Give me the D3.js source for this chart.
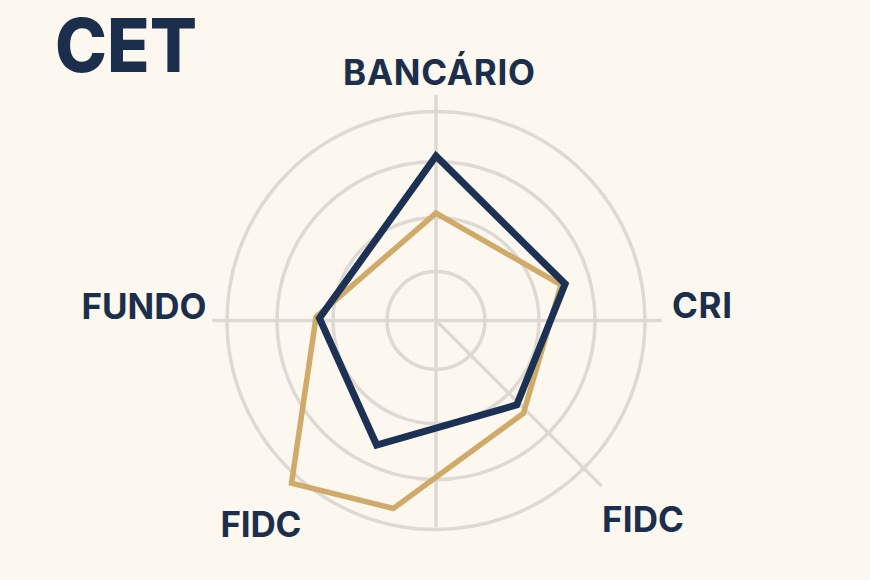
<!DOCTYPE html>
<html>
<head>
<meta charset="utf-8">
<script src="https://cdn.jsdelivr.net/npm/d3@7"></script>
<style>
  html, body { margin: 0; padding: 0; background: #fcf7ef; }
  svg { display: block; }
  text { font-family: Inter, "Noto Sans", sans-serif; fill: #1b2e4b; }
</style>
</head>
<body>
<div id="chart"></div>
<script>
// category labels, as printed
const categories = ["BANCÁRIO", "CRI", "FIDC", "FIDC", "FUNDO"];

// ring values and spoke extents (value units, 0-100 = outer ring)
const ringValues = [23.4, 49.3, 76.1, 100];
const spokeAngles = [0, 90, 135, 180, 270];
const spokeExtent = [108, 108, 112, 99, 107];

// navy series: vertex angle (deg, clockwise from top) and value
const navyAngles = [0, 74.2, 136.3, 205.5, 271.1];
const navyValues = [78.7, 64.2, 55.9, 66.0, 55.8];

// gold series
const goldAngles = [0, 74.1, 136.7, 192.8, 221.6, 271.7];
const goldValues = [51.4, 62.2, 61.0, 92.2, 104.1, 57.4];

const width = 870;
const height = 580;
const cx = 436;
const cy = 320.5;

// label placement (layout only)
const labelPos = [
    {x: 439, y: 85, w: 192},
    {x: 702, y: 318, w: 60},
    {x: 643, y: 532, w: 82},
    {x: 261, y: 537, w: 81},
    {x: 144, y: 319, w: 125}
];

const svg = d3.select("#chart")
    .append("svg")
    .attr("width", width)
    .attr("height", height);

svg.append("rect")
    .attr("width", width)
    .attr("height", height)
    .attr("fill", "#fcf7ef");

const r = d3.scaleLinear()
    .domain([0, 100])
    .range([0, 209]);

const rad = d => d * Math.PI / 180;

const g = svg.append("g")
    .attr("transform", `translate(${cx},${cy})`);

// rings
g.selectAll("circle.ring")
    .data(ringValues)
    .join("circle")
    .attr("class", "ring")
    .attr("r", d => r(d))
    .attr("fill", "none")
    .attr("stroke", "#dedad3")
    .attr("stroke-width", 3.5);

// spokes
g.selectAll("line.spoke")
    .data(spokeAngles)
    .join("line")
    .attr("class", "spoke")
    .attr("x1", 0)
    .attr("y1", 0)
    .attr("x2", (d, i) => Math.sin(rad(d)) * r(spokeExtent[i]))
    .attr("y2", (d, i) => -Math.cos(rad(d)) * r(spokeExtent[i]))
    .attr("stroke", "#dedad3")
    .attr("stroke-width", 3.5);

const radial = d3.lineRadial()
    .angle(d => rad(d[0]))
    .radius(d => r(d[1]))
    .curve(d3.curveLinearClosed);

const goldPts = goldAngles.map((a, i) => [a, goldValues[i]]);
const navyPts = navyAngles.map((a, i) => [a, navyValues[i]]);

g.append("path")
    .attr("d", radial(goldPts))
    .attr("fill", "none")
    .attr("stroke", "#d0aa68")
    .attr("stroke-width", 5.5)
    .attr("stroke-linejoin", "miter");

g.append("path")
    .attr("d", radial(navyPts))
    .attr("fill", "none")
    .attr("stroke", "#1c3154")
    .attr("stroke-width", 7)
    .attr("stroke-linejoin", "miter");

// category labels
svg.selectAll("text.cat")
    .data(categories)
    .join("text")
    .attr("class", "cat")
    .attr("x", (d, i) => labelPos[i].x - labelPos[i].w / 2)
    .attr("y", (d, i) => labelPos[i].y)
    .attr("textLength", (d, i) => labelPos[i].w)
    .attr("lengthAdjust", "spacing")
    .attr("font-size", 35)
    .attr("font-weight", 700)
    .text(d => d);

// title
svg.append("text")
    .attr("x", 55)
    .attr("y", 72)
    .attr("textLength", 142)
    .attr("lengthAdjust", "spacingAndGlyphs")
    .attr("font-size", 74)
    .attr("font-weight", 800)
    .text("CET");
</script>
</body>
</html>
